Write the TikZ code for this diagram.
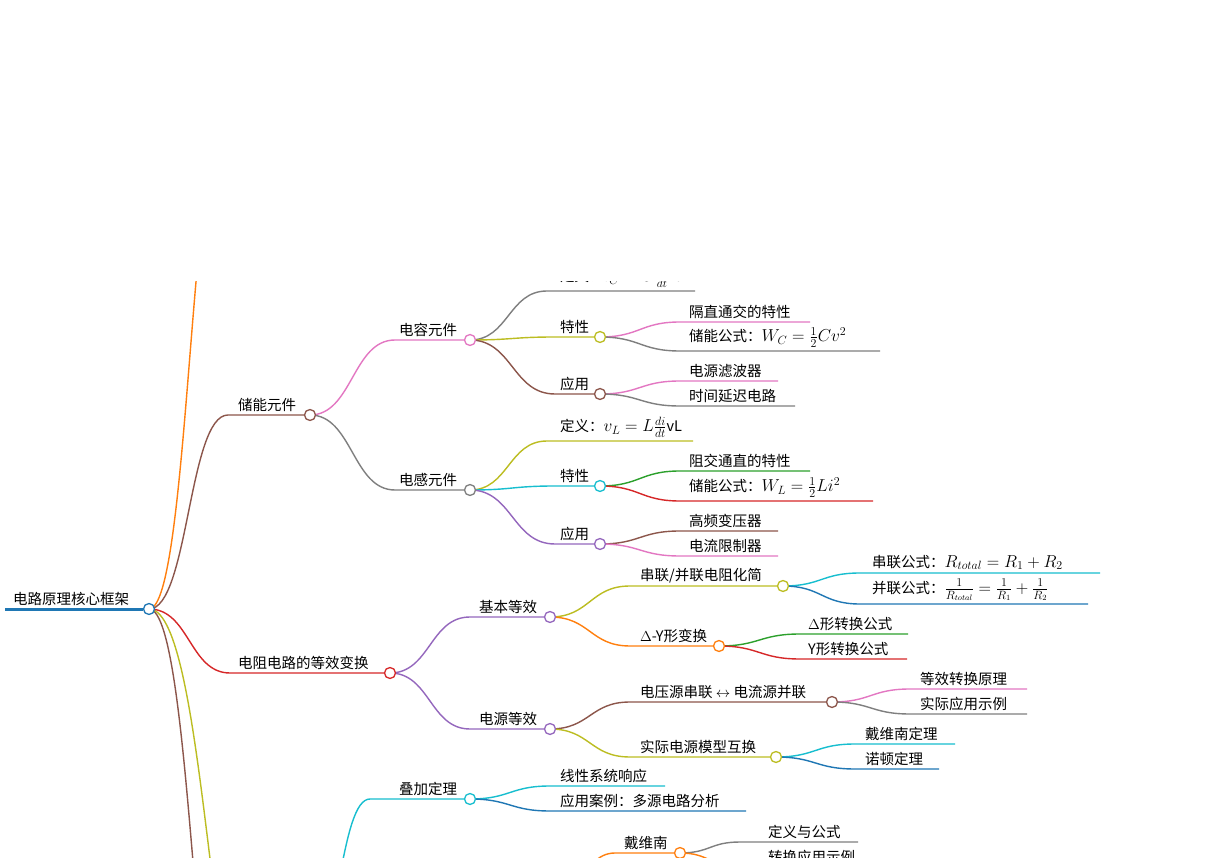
\documentclass[tikz,border=0pt]{standalone}
\usepackage{fontspec}
\newfontfamily\cjk{Noto Sans CJK SC}
\definecolor{cblue}{HTML}{1F77B4}
\definecolor{corange}{HTML}{FF7F0E}
\definecolor{cgreen}{HTML}{2CA02C}
\definecolor{cred}{HTML}{D62728}
\definecolor{cpurple}{HTML}{9467BD}
\definecolor{cbrown}{HTML}{8C564B}
\definecolor{cpink}{HTML}{E377C2}
\definecolor{cgray}{HTML}{7F7F7F}
\definecolor{colive}{HTML}{BCBD22}
\definecolor{ccyan}{HTML}{17BECF}
\tikzset{ln/.style={line width=1.4pt},
 lab/.style={anchor=south west,inner sep=0pt,font=\cjk\fontsize{14.5}{16}\selectfont},
 knotst/.style={circle,draw,fill=white,line width=1.3pt,minimum size=11pt,inner sep=0pt}}
\newcommand\edgeC[6]{\draw[#1,ln] (#2,#3) .. controls ({(#2+#4)/2},#3) and ({(#2+#4)/2},#5) .. (#4,#5) -- (#6,#5);}
\newcommand\knotC[4]{\node[knotst,draw=#2] (#1) at (#3,#4) {};}
\newcommand\lblC[4]{\node[lab] (#1) at (#2,#3) {#4};}
\newcommand\bm[1]{{\fontsize{17}{18}\selectfont$#1$}}
\begin{document}
\begin{tikzpicture}[x=1pt,y=-1pt]
\useasboundingbox (0,0) rectangle (1219,858);
\fill[white] (0,0) rectangle (1219,858);
\clip (0,282) rectangle (1219,858);
% root branches
\draw[cblue,line width=3pt] (5,609) -- (143,609);
\draw[corange,ln] (149,609) .. controls (190,609) and (190,100) .. (231,100);
\draw[cbrown,ln] (149,609) .. controls (194.5,609) and (194.5,1150) .. (240,1150);
\draw[colive,ln] (149,609) .. controls (209.5,609) and (209.5,1100) .. (270,1100);
\edgeC{cbrown}{149}{609}{228}{415}{304}
\edgeC{cred}{149}{609}{230}{673}{384}
% storage
\edgeC{cpink}{310}{415}{395}{340}{464}
\edgeC{cgray}{310}{415}{395}{490}{464}
\edgeC{cgray}{470}{340}{547}{291}{695}
\edgeC{colive}{470}{340}{555}{337}{594}
\edgeC{cbrown}{470}{340}{555}{394}{594}
\edgeC{cpink}{600}{337}{680}{322}{810}
\edgeC{cgray}{600}{337}{680}{351}{880}
\edgeC{cpink}{600}{394}{680}{381}{778}
\edgeC{cgray}{600}{394}{680}{406}{795}
\edgeC{colive}{470}{490}{547}{441}{693}
\edgeC{ccyan}{470}{490}{555}{486}{594}
\edgeC{cpurple}{470}{490}{555}{544}{594}
\edgeC{cgreen}{600}{486}{680}{471}{810}
\edgeC{cred}{600}{486}{680}{501}{873}
\edgeC{cbrown}{600}{544}{680}{531}{778}
\edgeC{cpink}{600}{544}{680}{556}{778}
% resistive
\edgeC{cpurple}{390}{673}{470}{617}{544}
\edgeC{cpurple}{390}{673}{470}{729}{544}
\edgeC{colive}{550}{617}{630}{586}{777}
\edgeC{corange}{550}{617}{630}{646}{713}
\edgeC{ccyan}{783}{586}{860}{573}{1100}
\edgeC{cblue}{783}{586}{860}{604}{1088}
\edgeC{cgreen}{719}{646}{800}{634}{908}
\edgeC{cred}{719}{646}{800}{659}{907}
\edgeC{cbrown}{550}{729}{630}{702}{826}
\edgeC{colive}{550}{729}{630}{757}{770}
\edgeC{cpink}{832}{702}{910}{689}{1027}
\edgeC{cgray}{832}{702}{910}{714}{1027}
\edgeC{ccyan}{776}{757}{855}{744}{955}
\edgeC{cblue}{776}{757}{855}{769}{939}
% superposition and thevenin
\edgeC{ccyan}{310}{950}{370}{799}{464}
\edgeC{ccyan}{470}{799}{550}{786}{665}
\edgeC{cblue}{470}{799}{550}{811}{746}
\edgeC{corange}{540}{920}{615}{853}{674}
\edgeC{cgray}{680}{853}{740}{842}{858}
\edgeC{corange}{680}{853}{740}{867}{870}
% knots
\knotC{k0}{cblue}{149}{609}
\knotC{k1}{cbrown}{310}{415}
\knotC{k2}{cred}{390}{673}
\knotC{k3}{cpink}{470}{340}
\knotC{k4}{cgray}{470}{490}
\knotC{k5}{colive}{600}{337}
\knotC{k6}{cbrown}{600}{394}
\knotC{k7}{ccyan}{600}{486}
\knotC{k8}{cpurple}{600}{544}
\knotC{k9}{cpurple}{550}{617}
\knotC{k10}{cpurple}{550}{729}
\knotC{k11}{colive}{783}{586}
\knotC{k12}{corange}{719}{646}
\knotC{k13}{cbrown}{832}{702}
\knotC{k14}{colive}{776}{757}
\knotC{k15}{ccyan}{470}{799}
\knotC{k16}{corange}{680}{853}
% labels
\lblC{t0}{13}{606}{电路原理核心框架}
\lblC{t1}{238}{412}{储能元件}
\lblC{t2}{238}{670}{电阻电路的等效变换}
\lblC{t3}{399}{337}{电容元件}
\lblC{t4}{399}{487}{电感元件}
\lblC{t5}{560}{288}{定义：\bm{i_C = C\frac{dv}{dt}}iC}
\lblC{t6}{560}{334}{特性}
\lblC{t7}{560}{391}{应用}
\lblC{t8}{689}{319}{隔直通交的特性}
\lblC{t9}{689}{348}{储能公式：\bm{W_C = \frac{1}{2}Cv^2}}
\lblC{t10}{689}{378}{电源滤波器}
\lblC{t11}{689}{403}{时间延迟电路}
\lblC{t12}{560}{438}{定义：\bm{v_L = L\frac{di}{dt}}vL}
\lblC{t13}{560}{483}{特性}
\lblC{t14}{560}{541}{应用}
\lblC{t15}{689}{468}{阻交通直的特性}
\lblC{t16}{689}{498}{储能公式：\bm{W_L = \frac{1}{2}Li^2}}
\lblC{t17}{689}{528}{高频变压器}
\lblC{t18}{689}{553}{电流限制器}
\lblC{t19}{479}{614}{基本等效}
\lblC{t20}{479}{726}{电源等效}
\lblC{t21}{640}{583}{串联/并联电阻化简}
\lblC{t22}{640}{643}{$\Delta$-Y形变换}
\lblC{t23}{872}{570}{串联公式：\bm{R_{total} = R_1 + R_2}}
\lblC{t24}{872}{601}{并联公式：\bm{\frac{1}{R_{total}} = \frac{1}{R_1} + \frac{1}{R_2}}}
\lblC{t25}{808}{631}{$\Delta$形转换公式}
\lblC{t26}{808}{656}{Y形转换公式}
\lblC{t27}{640}{699}{电压源串联 $\leftrightarrow$ 电流源并联}
\lblC{t28}{640}{754}{实际电源模型互换}
\lblC{t29}{920}{686}{等效转换原理}
\lblC{t30}{920}{711}{实际应用示例}
\lblC{t31}{865}{741}{戴维南定理}
\lblC{t32}{865}{766}{诺顿定理}
\lblC{t33}{399}{796}{叠加定理}
\lblC{t34}{560}{783}{线性系统响应}
\lblC{t35}{560}{808}{应用案例：多源电路分析}
\lblC{t36}{624}{850}{戴维南}
\lblC{t37}{768}{839}{定义与公式}
\lblC{t38}{768}{864}{转换应用示例}
\end{tikzpicture}
\end{document}
